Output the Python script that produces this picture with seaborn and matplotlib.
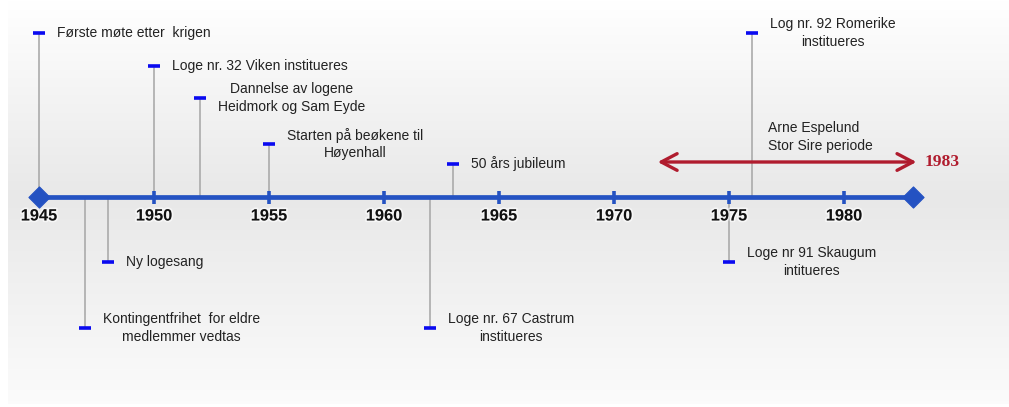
import matplotlib

matplotlib.use("Agg")
import matplotlib.patheffects as pe
import matplotlib.pyplot as plt
import numpy as np
import pandas as pd
import seaborn as sns

# events: year, stem height (px above/below the axis line), label
event_years = [1945, 1950, 1952, 1955, 1963, 1976, 1947, 1948, 1962, 1975]
event_heights = [164, 131, 99, 53, 33, 164, -131, -65, -131, -65]
event_labels = [
    "Første møte etter  krigen",
    "Loge nr. 32 Viken institueres",
    "Dannelse av logene\nHeidmork og Sam Eyde",
    "Starten på beøkene til\nHøyenhall",
    "50 års jubileum",
    "Log nr. 92 Romerike\ninstitueres",
    "Kontingentfrihet  for eldre\nmedlemmer vedtas",
    "Ny logesang",
    "Loge nr. 67 Castrum\ninstitueres",
    "Loge nr 91 Skaugum\nintitueres",
]

tick_years = [1945, 1950, 1955, 1960, 1965, 1970, 1975, 1980]
axis_start, axis_end = 1945, 1983

period_start, period_end = 1972, 1983
period_height = 35
period_label = "Arne Espelund\nStor Sire periode"
period_end_label = "1983"

AXIS_BLUE = "#2452c2"
DASH_BLUE = "#0a0af0"
STEM_GREY = "#ababab"
ARROW_RED = "#b01c2e"
PX_PER_YEAR = 23.0

sns.set_theme(style="white")
plt.rcParams["font.family"] = ["Liberation Sans", "DejaVu Sans"]

fig = plt.figure(figsize=(10.09, 4.07), dpi=100)
ax = fig.add_axes([0, 0, 1, 1])
ax.set_xlim(1945 - 39 / PX_PER_YEAR, 1945 + (1009 - 39) / PX_PER_YEAR)
ax.set_ylim(-210, 197)
ax.axis("off")

# soft grey gradient panel (top row first)
rows = np.linspace(0, 1, 200)
shade = np.interp(rows, [0.0, 0.49, 1.0], [1.0, 0.91, 0.985])
grad = np.repeat(shade[:, None, None], 2, axis=1).repeat(3, axis=2)
ax.imshow(grad, extent=[8 / 1009, 1, 3 / 407, 1], transform=ax.transAxes,
          aspect="auto", zorder=0, interpolation="bilinear", origin="upper")

df = pd.DataFrame({"year": event_years, "height": event_heights, "label": event_labels})

# stems
ax.vlines(df["year"], 0, df["height"], color=STEM_GREY, lw=1.2, zorder=2)

# main axis line with end diamonds and ticks
sns.lineplot(x=[axis_start, axis_end], y=[0, 0], color=AXIS_BLUE, lw=3.4, ax=ax, zorder=3)
sns.scatterplot(x=[axis_start, axis_end], y=[0, 0], marker="D", s=115, color=AXIS_BLUE,
                edgecolor=AXIS_BLUE, ax=ax, zorder=4)
ax.vlines(tick_years[1:], -6.5, 6.5, color=AXIS_BLUE, lw=2.6, zorder=4)
for yr in tick_years:
    ax.text(yr, -19, str(yr), ha="center", va="center", fontsize=11.8, fontweight="bold",
            color="#111111", zorder=5,
            path_effects=[pe.withStroke(linewidth=2.5, foreground="white", alpha=0.6)])

# event dashes and labels
sns.scatterplot(data=df, x="year", y="height", marker="_", s=80, linewidth=2.6,
                color=DASH_BLUE, ax=ax, zorder=5)
for _, row in df.iterrows():
    ax.text(row["year"] + 18 / PX_PER_YEAR, row["height"], row["label"], ha="left",
            va="center", multialignment="center", fontsize=10, color="#222222",
            linespacing=1.3, zorder=5)

# period arrow
ax.annotate("", xy=(period_end + 0.15, period_height), xytext=(period_start - 0.1, period_height),
            arrowprops=dict(arrowstyle="<->,head_length=0.95,head_width=0.5", color=ARROW_RED,
                            lw=2.4, shrinkA=0, shrinkB=0), zorder=5)
ax.text(period_end + 0.5, period_height, period_end_label, ha="left", va="center",
        fontsize=12.5, fontweight="bold", color=ARROW_RED, family=["Liberation Serif"], zorder=5)
ax.text(1976.7, 60, period_label, ha="left", va="center", multialignment="left",
        fontsize=10, color="#222222", linespacing=1.3, zorder=5)

fig.savefig("out.png", dpi=100)
